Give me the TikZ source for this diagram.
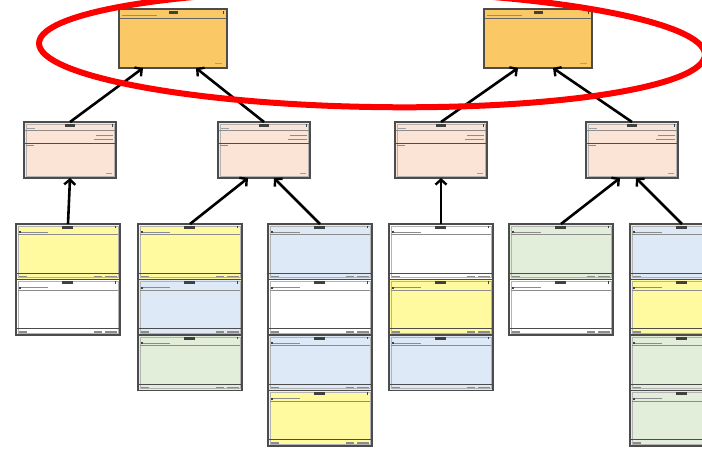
\documentclass[tikz,border=0pt]{standalone}
\usetikzlibrary{arrows.meta}

\definecolor{goldbox}{RGB}{250,200,100}
\definecolor{peach}{RGB}{251,228,214}
\definecolor{lemon}{RGB}{255,249,160}
\definecolor{sky}{RGB}{221,233,246}
\definecolor{sage}{RGB}{226,238,217}
\colorlet{ink}{black!75}

\tikzset{
  box/.style={rectangle,anchor=north west,inner sep=0pt,outer sep=0pt,
    draw=black!70,line width=1.6pt},
  lowbox/.style={box,minimum width=104pt,minimum height=55.5pt},
  midbox/.style={box,fill=peach,minimum width=92pt,minimum height=56pt},
  topbox/.style={box,fill=goldbox,minimum width=108pt,minimum height=59pt},
  frame/.style={draw=black!30,line width=.6pt},
  rule/.style={draw=black!45,line width=.6pt},
  link/.style={draw=black,line width=2.6pt,
    -{Straight Barb[length=5pt,width=11pt,line width=2.4pt]}},
  redring/.style={draw=red,line width=6pt}
}

% card of the lowest row: name, left, top, colour
\newcommand{\lowcard}[4]{%
  \node[lowbox,fill=#4] (#1) at (#2,#3) {};
  \begin{scope}[shift={(#2,#3)}]
    \draw[frame] (2,2) rectangle (102,53.5);
    \fill[ink] (46,1.5) rectangle (57,4.5);
    \fill[ink] (99,1.5) rectangle (99.8,4);
    \fill[ink] (3,7) rectangle (5,9);
    \fill[ink!60] (5,7.5) rectangle (32,8.8);
    \draw[rule] (2,10.5) -- (102,10.5);
    \draw[rule,black!70,line width=1pt] (1,49) -- (103,49);
    \fill[ink!60] (3,51.5) rectangle (11,53);
    \fill[ink!60] (78,51.5) rectangle (86,53);
    \fill[ink!60] (89,51.5) rectangle (101,53);
  \end{scope}}

% card of the middle row: name, left, top
\newcommand{\midcard}[3]{%
  \node[midbox] (#1) at (#2,#3) {};
  \begin{scope}[shift={(#2,#3)}]
    \draw[frame] (2,2) rectangle (90,54);
    \fill[ink] (41,2) rectangle (51,4.5);
    \fill[ink] (88,2) rectangle (88.8,4.5);
    \fill[ink!50] (3,6) rectangle (11,7.2);
    \draw[rule] (1,8.5) -- (91,8.5);
    \fill[ink!60] (72,13) rectangle (89,14.3);
    \fill[ink!60] (70,17) rectangle (89,18.3);
    \draw[rule,black!70,line width=.8pt] (1,21) -- (91,21);
    \fill[ink!60] (2,22.5) rectangle (10,24);
    \fill[ink!50] (82,50.5) rectangle (88,52);
  \end{scope}}

% card of the top row: name, left, top
\newcommand{\topcard}[3]{%
  \node[topbox] (#1) at (#2,#3) {};
  \begin{scope}[shift={(#2,#3)}]
    \fill[ink] (50,1.5) rectangle (59,4.5);
    \fill[ink] (104,1.5) rectangle (104.8,4.5);
    \fill[ink!60] (3,5.5) rectangle (38,7);
    \draw[rule,black!60] (1,9) -- (107,9);
    \fill[ink!50] (96,53.5) rectangle (103,55);
  \end{scope}}

\begin{document}
\begin{tikzpicture}[x=1pt,y=-1pt]
  \useasboundingbox (0,0) rectangle (702,450);

  \topcard{top1}{119}{9}
  \topcard{top2}{484}{9}

  \midcard{mid1}{24}{122}
  \midcard{mid2}{218}{122}
  \midcard{mid3}{395}{122}
  \midcard{mid4}{586}{122}

  \lowcard{t11}{16}{224}{lemon}
  \lowcard{t12}{16}{279.5}{white}

  \lowcard{t21}{138}{224}{lemon}
  \lowcard{t22}{138}{279.5}{sky}
  \lowcard{t23}{138}{335}{sage}

  \lowcard{t31}{268}{224}{sky}
  \lowcard{t32}{268}{279.5}{white}
  \lowcard{t33}{268}{335}{sky}
  \lowcard{t34}{268}{390.5}{lemon}

  \lowcard{t41}{389}{224}{white}
  \lowcard{t42}{389}{279.5}{lemon}
  \lowcard{t43}{389}{335}{sky}

  \lowcard{t51}{509}{224}{sage}
  \lowcard{t52}{509}{279.5}{white}

  \lowcard{t61}{630}{224}{sky}
  \lowcard{t62}{630}{279.5}{lemon}
  \lowcard{t63}{630}{335}{sage}
  \lowcard{t64}{630}{390.5}{sage}

  \foreach \from/\to/\dx in {t11/mid1/0,t21/mid2/-16,t31/mid2/10,t41/mid3/0,
                             t51/mid4/-12,t61/mid4/4,
                             mid1/top1/-30,mid2/top1/23,mid3/top2/-20,mid4/top2/15}
    \draw[link] (\from.north) -- ([xshift=\dx pt]\to.south);

  \draw[redring,rotate around={-1:(372,49)}] (372,49) ellipse [x radius=333pt,y radius=58pt];

\end{tikzpicture}
\end{document}
